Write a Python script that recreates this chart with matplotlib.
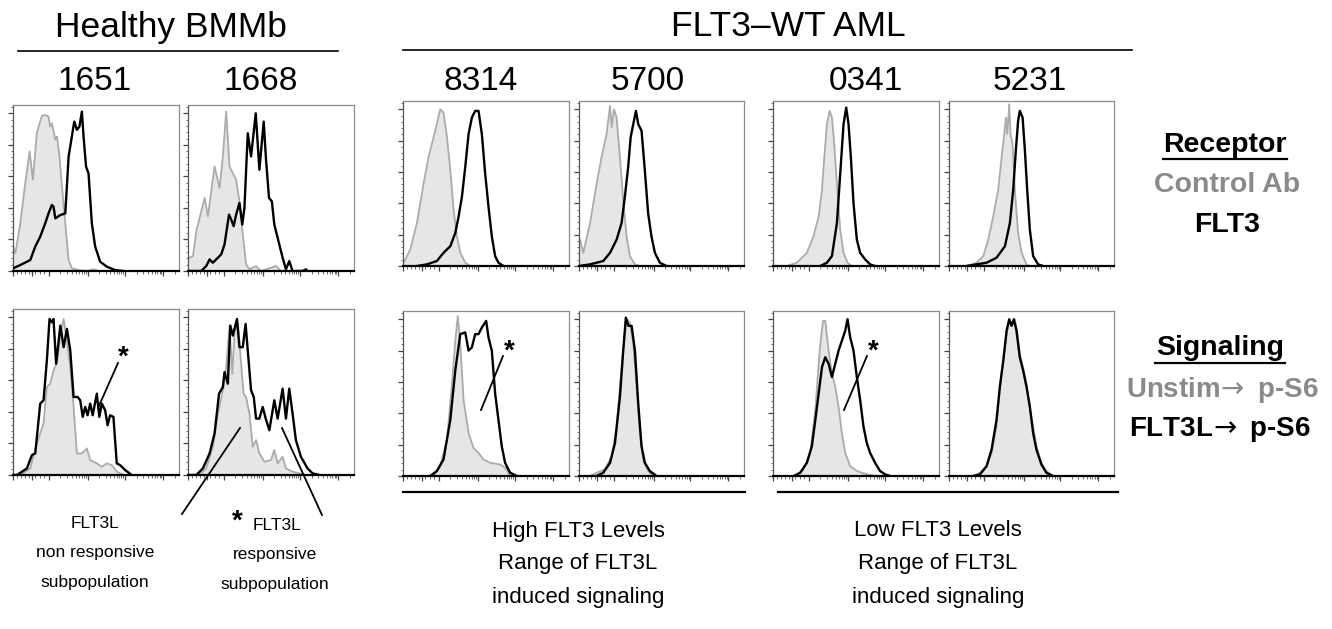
import matplotlib
matplotlib.use("Agg")
import matplotlib.pyplot as plt
from matplotlib.lines import Line2D
import numpy as np

plt.rcParams['font.family'] = ['Liberation Sans', 'DejaVu Sans']

W, H = 1332, 629

# ---------------- data (x: % of axis channel range, y: % of max scale) -------------
# Healthy 1651 - receptor
h1651_ctrl_x = [0, 1.4, 4.4, 7, 10, 12, 14.4, 17.4, 19.4, 21.4, 22.4, 23.4, 25.5, 26.5, 28, 29.5, 31.5, 33.5, 35.5, 40, 45, 48.5, 52]
h1651_ctrl_y = [14.7, 10.6, 28.7, 50, 72, 55, 83.5, 93.4, 94, 93, 87, 89, 79, 81, 69, 51, 28.7, 6.6, 1.6, 0.5, 0, 1, 0]
h1651_flt3_x = [0, 4.4, 10.4, 13.4, 16.4, 19.4, 21.4, 23.4, 24.4, 25.5, 28.5, 31.5, 33.5, 36.9, 38.5, 40, 41.5, 42.5, 44, 45.5, 47.5, 49.5, 52.5, 56.5, 61.5, 66.5]
h1651_flt3_y = [1.6, 3.6, 6.6, 14.7, 20.7, 28.7, 34.7, 39.8, 38.8, 31.7, 33.7, 34.7, 68.9, 90, 85, 87, 96, 81, 62.9, 58.8, 28.7, 14.7, 5.6, 2.6, 0.6, 0]
# Healthy 1668 - receptor
h1668_ctrl_x = [0, 1, 3, 5, 10, 12, 16, 19, 21, 23, 25, 27, 29, 31, 33, 35, 37, 41, 44, 53, 56]
h1668_ctrl_y = [8, 8, 9, 24, 44, 33, 63, 50, 69, 96, 63, 59, 55, 42, 22, 4, 1, 3, 0, 3, 0]
h1668_flt3_x = [0, 8, 11, 13, 15, 18, 20, 22, 24.7, 26, 27.5, 29, 31, 32.7, 34, 36, 38, 40.8, 43, 45.6, 47, 48.8, 50.5, 52, 55, 57, 59, 61, 63, 69, 71, 72]
h1668_flt3_y = [0, 0, 3, 7, 5, 8, 10, 16, 34, 31, 27, 34, 41, 28, 38, 83, 69, 95, 61, 90, 67, 44, 42, 28, 16, 8, 1, 6, 0, 0, 1, 0]
# Healthy 1651 - signaling
h1651_unstim_x = [0, 4.4, 10.4, 14.4, 18.4, 20.4, 22.4, 24.4, 26.5, 28.5, 30.5, 32.5, 34.5, 36.5, 38.5, 41.5, 44.5, 46.5, 50.5, 53.5, 56.5, 59.5, 62.5, 66.5]
h1651_unstim_y = [0, 0, 4, 19, 31, 53, 55, 63, 68, 84, 94, 81, 65, 41, 13, 13, 16, 9, 7, 5, 7, 6, 2, 0]
h1651_stim_x = [0, 2.4, 8.4, 11.4, 13.4, 16.4, 18.4, 20.4, 22, 23.4, 24.4, 26, 28.5, 30.5, 32.5, 34.5, 36.5, 38.9, 40.5, 42, 43.5, 44.9, 46.5, 48, 50.5, 52, 53.5, 55.5, 57, 58.5, 60.5, 62.5, 64.5, 67.5, 71.5]
h1651_stim_y = [0, 0, 4, 12, 13, 43, 45, 69, 94, 92, 94, 67, 90, 77, 88, 75, 47, 47, 45, 35, 41, 36, 43, 36, 49, 35, 43, 39, 30, 36, 35, 7, 6, 3, 0]
# Healthy 1668 - signaling
h1668_unstim_x = [0, 7, 11, 15, 18, 21, 23, 25, 26.7, 28, 30, 32, 33.5, 35, 37, 39, 41, 43, 46, 50, 52, 54, 57, 59, 63, 67, 71]
h1668_unstim_y = [0, 0, 4, 17, 37, 51, 65, 90, 61, 86, 92, 67, 49, 47, 37, 17, 21, 13, 8, 9, 15, 7, 11, 4, 2, 1, 0]
h1668_stim_x = [0, 5, 9, 13, 16, 18.7, 21, 22, 24, 25.5, 27, 29.5, 31, 33, 34.7, 36, 38, 39.6, 41, 43, 45, 46.8, 49, 52, 54, 57, 59, 61, 63, 65, 68, 72, 75, 79]
h1668_stim_y = [0, 0, 4, 13, 25, 49, 53, 62, 55, 90, 84, 94, 77, 77, 91, 75, 51, 47, 34, 34, 41, 34, 27, 45, 34, 52, 34, 52, 37, 21, 11, 4, 1, 0]
# AML 8314
a8314_ctrl_x = [0, 0.4, 4.4, 8.4, 12.4, 15.4, 17.4, 20.4, 22.4, 24.4, 26.5, 28.5, 30.5, 32.5, 34.5, 37.5, 40.5]
a8314_ctrl_y = [1, 2, 10, 26, 50, 66, 74, 86, 95, 93, 78, 58, 34, 18, 8, 2, 0]
a8314_flt3_x = [8.4, 14.4, 20.4, 24.4, 28.5, 31.5, 33.5, 35.5, 37.5, 39.5, 41.5, 43.5, 45.5, 47.5, 49.5, 51.5, 53.5, 55.5, 57.5, 60.5]
a8314_flt3_y = [0, 1, 3, 8, 12, 20, 30, 42, 60, 80, 90, 94, 94, 80, 56, 36, 18, 6, 2, 0]
a8314_unstim_x = [18.4, 22.4, 26.5, 29.5, 31.5, 33, 34.5, 36.5, 39.5, 42.5, 45.5, 48.5, 52.5, 58.5, 61.5, 64.5]
a8314_unstim_y = [0, 6, 22, 56, 82, 97, 80, 46, 26, 17, 14, 10, 8, 7, 5, 0]
a8314_stim_x = [16.4, 20.4, 24.4, 28.5, 31.5, 34.5, 37.5, 39.5, 41.5, 43.5, 45.5, 47.5, 50.1, 51.5, 53.5, 55.5, 57.5, 59.5, 61.5, 64.5, 68.5]
a8314_stim_y = [0, 3, 10, 34, 64, 86, 87, 76, 78, 86, 86, 90, 94, 84, 76, 50, 34, 18, 8, 2, 0]
# AML 5700
a5700_ctrl_x = [0, 0.6, 2.6, 6.7, 10.7, 13.7, 16.7, 18.8, 19.8, 21.2, 22.8, 24.8, 26.8, 28.8, 30.8, 33.9, 36.9]
a5700_ctrl_y = [16, 16, 8, 26, 50, 66, 80, 97, 84, 95, 90, 66, 40, 18, 6, 1, 0]
a5700_flt3_x = [0, 6.7, 14.7, 18.8, 22.8, 25.8, 27.8, 29.8, 31.3, 32.9, 34.5, 35.9, 37.9, 39.9, 41.9, 43.9, 46, 49, 53]
a5700_flt3_y = [0, 1, 3, 8, 16, 26, 42, 60, 78, 86, 94, 86, 82, 58, 32, 18, 8, 2, 0]
a5700_unstim_x = [6.7, 10.7, 15.7, 19.8, 22.8, 25.8, 27.8, 29.2, 30.8, 32.9, 34.9, 36.9, 38.9, 41.9, 44.9]
a5700_unstim_y = [0, 2, 4, 12, 30, 66, 86, 95, 93, 80, 54, 26, 10, 3, 0]
a5700_stim_x = [10.7, 14.7, 18.8, 21.8, 24.8, 26.8, 28.4, 30, 31.9, 33.9, 35.9, 37.9, 39.9, 42.9, 47]
a5700_stim_y = [0, 2, 8, 20, 48, 76, 96, 91, 91, 76, 44, 18, 8, 3, 0]
# AML 0341
a0341_ctrl_x = [8.4, 14.4, 20.4, 24.4, 27.5, 29.5, 30.9, 32.5, 34.1, 35.5, 36.9, 38.5, 40.5, 42.5, 44.9, 47.5]
a0341_ctrl_y = [0, 2, 8, 18, 30, 46, 66, 86, 94, 90, 74, 50, 22, 8, 2, 0]
a0341_flt3_x = [28.5, 32.5, 35.5, 38.5, 40.5, 42.5, 44.1, 45.5, 46.9, 48.5, 50.5, 52.5, 55.5, 58.5, 61.5]
a0341_flt3_y = [0, 2, 6, 26, 56, 86, 96, 86, 66, 38, 16, 8, 4, 1, 0]
a0341_unstim_x = [14.4, 18.4, 22.4, 25.5, 28.1, 30.1, 31.5, 33.5, 35.5, 37.5, 39.5, 41.5, 43.5, 46.5, 50.5, 56.5, 62.5]
a0341_unstim_y = [0, 4, 14, 40, 76, 94, 94, 76, 62, 54, 42, 26, 14, 6, 3, 1, 0]
a0341_stim_x = [12.4, 16.4, 20.4, 23.4, 25.5, 27.5, 29.5, 31.5, 33.5, 35.5, 37.5, 39.5, 41.5, 43.5, 44.9, 46.5, 48.5, 50.5, 52.5, 54.5, 56.5, 58.5, 61.5, 64.5, 67.5, 70.5]
a0341_stim_y = [0, 2, 8, 18, 34, 50, 66, 72, 68, 60, 68, 76, 82, 88, 95, 84, 76, 60, 46, 30, 20, 14, 8, 3, 1, 0]
# AML 5231
a5231_ctrl_x = [10.7, 16.7, 20.8, 23.8, 26.8, 29.8, 31.9, 33.3, 34.5, 35.3, 36.5, 37.3, 38.5, 39.9, 41.9, 44, 47, 49]
a5231_ctrl_y = [0, 2, 6, 16, 30, 46, 66, 78, 90, 80, 98, 80, 74, 46, 20, 8, 1, 0]
a5231_flt3_x = [10.7, 22.8, 28.8, 33.9, 36.9, 38.9, 40.5, 41.9, 42.9, 44.6, 46, 47.4, 49, 51, 54, 57]
a5231_flt3_y = [0, 2, 5, 12, 26, 46, 70, 88, 94, 90, 70, 46, 22, 6, 1, 0]
a5231_unstim_x = [14.7, 18.8, 22.8, 25.8, 28.8, 30.8, 32.9, 34.9, 36.5, 38.5, 39.9, 41.3, 42.9, 44.9, 47, 49, 51, 53, 56, 59, 63]
a5231_unstim_y = [0, 2, 6, 14, 30, 52, 70, 86, 94, 92, 95, 88, 74, 66, 56, 40, 30, 18, 8, 3, 0]
a5231_stim_x = [14.7, 18.8, 22.8, 25.8, 28.8, 30.8, 32.9, 34.9, 36.5, 37.9, 39.3, 40.9, 42.9, 44.9, 47, 49, 51, 53, 56, 59, 63]
a5231_stim_y = [0, 1, 6, 16, 34, 54, 70, 88, 95, 91, 95, 88, 72, 64, 54, 42, 26, 16, 7, 2, 0]

sample_ids = ["1651", "1668", "8314", "5700", "0341", "5231"]

# ---------------- layout -----------------------------------------------------
fig = plt.figure(figsize=(W / 100, H / 100), dpi=100)


def fx(x):
    return x / W


def fy(y):
    return 1 - y / H


def make_ax(left, top, w, h):
    ax = fig.add_axes([fx(left), fy(top + h), w / W, h / H])
    ax.set_xlim(0, 100)
    ax.set_ylim(0, 100)
    for s in ['top', 'right']:
        ax.spines[s].set_color('#8c8c8c')
        ax.spines[s].set_linewidth(0.9)
    ax.spines['left'].set_color('#555555')
    ax.spines['left'].set_linewidth(0.9)
    ax.spines['bottom'].set_color('black')
    ax.spines['bottom'].set_linewidth(1.6)
    # biexponential-like tick layout
    xmaj = [0, 11.2, 21.4, 45.3, 67.5, 90.5]
    xmin = [2.5, 5, 7.5, 9.5, 13.5, 16, 18.5]
    dec = [(21.4, 23.9), (45.3, 22.2), (67.5, 23.0)]
    for d0, dw in dec:
        xmin += [d0 + dw * np.log10(k) for k in range(2, 10)]
    xmin += [90.5 + 23 * np.log10(k) for k in range(2, 3)]
    ax.set_xticks(xmaj)
    ax.set_xticks(xmin, minor=True)
    ax.set_yticks([0, 19, 38, 57, 76, 95])
    ax.set_yticks([v for v in np.arange(0, 100, 3.8)], minor=True)
    ax.tick_params(which='major', direction='out', length=3.5, width=0.9, color='#444444',
                   labelbottom=False, labelleft=False)
    ax.tick_params(which='minor', direction='out', length=1.8, width=0.6, color='#555555')
    return ax


def draw(ax, gx, gy, bx, by):
    ax.fill_between(gx, gy, 0, color='#e6e6e6', lw=0, zorder=1)
    ax.plot(gx, gy, color='#ababab', lw=1.3, zorder=2)
    ax.plot(bx, by, color='black', lw=1.7, zorder=3, solid_joinstyle='round')


# top row (receptor)
draw(make_ax(13, 105, 166, 166), h1651_ctrl_x, h1651_ctrl_y, h1651_flt3_x, h1651_flt3_y)
draw(make_ax(188, 105, 166, 166), h1668_ctrl_x, h1668_ctrl_y, h1668_flt3_x, h1668_flt3_y)
draw(make_ax(403, 101, 166, 165), a8314_ctrl_x, a8314_ctrl_y, a8314_flt3_x, a8314_flt3_y)
draw(make_ax(579, 101, 165, 165), a5700_ctrl_x, a5700_ctrl_y, a5700_flt3_x, a5700_flt3_y)
draw(make_ax(773, 101, 166, 165), a0341_ctrl_x, a0341_ctrl_y, a0341_flt3_x, a0341_flt3_y)
draw(make_ax(949, 101, 165, 165), a5231_ctrl_x, a5231_ctrl_y, a5231_flt3_x, a5231_flt3_y)
# bottom row (signaling)
draw(make_ax(13, 309, 166, 166), h1651_unstim_x, h1651_unstim_y, h1651_stim_x, h1651_stim_y)
draw(make_ax(188, 309, 166, 166), h1668_unstim_x, h1668_unstim_y, h1668_stim_x, h1668_stim_y)
draw(make_ax(403, 311, 166, 165), a8314_unstim_x, a8314_unstim_y, a8314_stim_x, a8314_stim_y)
draw(make_ax(579, 311, 165, 165), a5700_unstim_x, a5700_unstim_y, a5700_stim_x, a5700_stim_y)
draw(make_ax(773, 311, 166, 165), a0341_unstim_x, a0341_unstim_y, a0341_stim_x, a0341_stim_y)
draw(make_ax(949, 311, 165, 165), a5231_unstim_x, a5231_unstim_y, a5231_stim_x, a5231_stim_y)


def text(x, y, s, **kw):
    kw.setdefault('ha', 'center')
    kw.setdefault('va', 'center')
    fig.text(fx(x), fy(y), s, **kw)


def line(x0, y0, x1, y1, lw=1.3, color='black'):
    fig.add_artist(Line2D([fx(x0), fx(x1)], [fy(y0), fy(y1)], color=color, lw=lw,
                          transform=fig.transFigure))


# group headers
text(171, 28, "Healthy BMMb", fontsize=25.5)
line(18, 51, 338, 51, lw=1.2)
text(788, 26, "FLT3\u2013WT AML", fontsize=25.5)
line(403, 50, 1132, 50, lw=1.2)
for sid, xc in zip(sample_ids, [95, 261, 481, 648, 866, 1030]):
    text(xc, 82, sid, fontsize=24)

# legend on the right
text(1225, 145, "Receptor", fontsize=20.5, fontweight='bold')
line(1163, 159, 1287, 159, lw=1.6)
text(1227, 185, "Control Ab", fontsize=20.5, fontweight='bold', color='#8a8a8a')
text(1227, 225, "FLT3", fontsize=20.5, fontweight='bold')
text(1220, 348, "Signaling", fontsize=20.5, fontweight='bold')
line(1155, 363, 1285, 363, lw=1.6)
text(1222, 390, "Unstim$\\!\\rightarrow$ p-S6", fontsize=20, fontweight='bold', color='#8a8a8a')
text(1220, 430, "FLT3L$\\!\\rightarrow$ p-S6", fontsize=20, fontweight='bold')

# annotation lines & asterisks
line(98, 408, 118, 363)
text(123, 358, "*", fontsize=20, fontweight='bold')
line(182, 514, 240, 428)
line(282, 428, 322, 515)
line(481, 410, 503, 356)
text(509, 352, "*", fontsize=20, fontweight='bold')
line(844, 410, 867, 356)
text(873, 352, "*", fontsize=20, fontweight='bold')

# bottom brackets
line(403, 492, 745, 492, lw=1.6)
line(778, 492, 1118, 492, lw=1.6)

# explanatory text
text(95, 524, "FLT3L", fontsize=12.5)
text(95, 553, "non responsive", fontsize=12.5)
text(95, 582, "subpopulation", fontsize=12.5)
text(237, 522, "*", fontsize=20, fontweight='bold')
text(277, 526, "FLT3L", fontsize=12.5)
text(275, 555, "responsive", fontsize=12.5)
text(275, 584, "subpopulation", fontsize=12.5)
for xc, first in [(578, "High FLT3 Levels"), (938, "Low FLT3 Levels")]:
    text(xc, 531, first, fontsize=16)
    text(xc, 564, "Range of FLT3L", fontsize=16)
    text(xc, 598, "induced signaling", fontsize=16)

fig.savefig("out.png", dpi=100)
